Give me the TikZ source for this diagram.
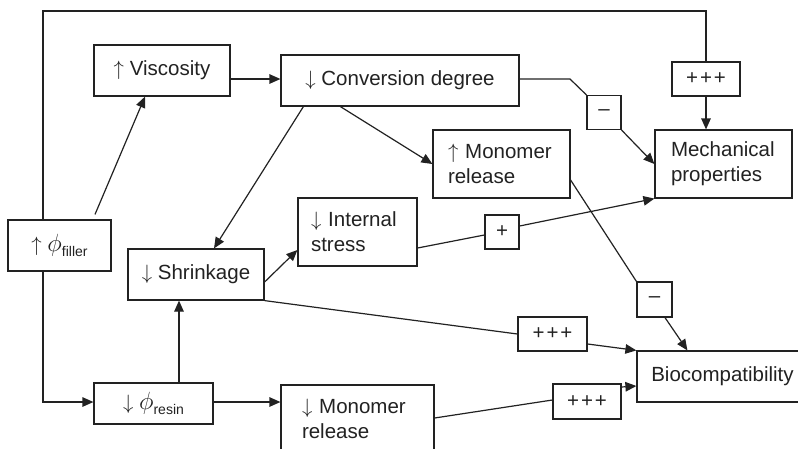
\documentclass[tikz,border=0pt]{standalone}
\usepackage{fontspec}
\setmainfont{Liberation Sans}
\usetikzlibrary{arrows.meta,calc}
\definecolor{ink}{HTML}{222222}
\begin{document}
\begin{tikzpicture}[x=1pt,y=-1pt,
  wire/.style={draw=ink,line width=1.2pt},
  arr/.style={wire,-{Triangle[length=11pt,width=9.5pt]}},
  box/.style={draw=ink,line width=1.2pt,rectangle,inner sep=0pt,text=ink,
    font=\fontsize{20.5}{24.8}\selectfont},
  sign/.style={box,minimum width=#1,minimum height=34pt},
  sign/.default=34pt]
\clip (0,0) rectangle (798,448);
\fill[white] (0,0) rectangle (798,448);
\newcommand{\sub}[1]{\raisebox{-0.45ex}{\fontsize{14}{14}\selectfont #1}}
\newcommand{\bigphi}{\scalebox{1.2}{$\phi$}}
% boxes
\node[box,minimum width=103pt,minimum height=51pt] (filler) at (59.5,245.5)
  {$\uparrow$ \bigphi\sub{filler}};
\node[box,minimum width=136pt,minimum height=51pt] (visc) at (162,70.5)
  {$\uparrow$ Viscosity};
\node[box,minimum width=238pt,minimum height=51pt] (conv) at (400,80.5)
  {$\downarrow$ Conversion degree};
\node[sign=68pt] (pppTop) at (706,79) {+\kern2pt+\kern2pt+};
\node[sign] (minusTop) at (604,112.5) {\textendash};
\node[box,minimum width=137pt,minimum height=68pt,text width=105pt,align=left] (mech) at (723.5,164)
  {Mechanical\\properties};
\node[box,minimum width=137pt,minimum height=68pt,text width=107pt,align=left] (monUp) at (501.5,164)
  {$\uparrow$ Monomer\\release};
\node[box,minimum width=119pt,minimum height=68pt,text width=93pt,align=left] (stress) at (357.5,232)
  {$\downarrow$ Internal\\stress};
\node[sign] (plus) at (502,232) {+};
\node[box,minimum width=136pt,minimum height=51pt] (shrink) at (196,274.5)
  {$\downarrow$ Shrinkage};
\node[sign=35pt,minimum height=35pt] (minusLow) at (654.5,299.5) {\textendash};
\node[sign=69pt] (pppMid) at (552.5,334) {+\kern2pt+\kern2pt+};
\node[box,minimum width=171pt,minimum height=51pt] (bio) at (722.5,376.5)
  {Biocompatibility};
\node[box,minimum width=119pt,minimum height=41pt] (resin) at (153.5,403.5)
  {$\downarrow$ \bigphi\sub{resin}};
\node[box,minimum width=153pt,minimum height=68pt,text width=111pt,align=left] (monDown) at (357.5,419)
  {$\downarrow$ Monomer\\release};
\node[sign=68pt,minimum height=35pt] (pppBot) at (587,401.5) {+\kern2pt+\kern2pt+};
% helper coordinates
\coordinate (tl) at (43,11);
\coordinate (tr) at (706,11);
\coordinate (bl) at (43,402);
\coordinate (y79) at (0,79);
\coordinate (cb) at (570,79);
\coordinate (rn) at (179,383);
% connectors
\draw[wire] (filler.north -| tl) -- (tl) -- (tr) -- (pppTop.north);
\draw[arr] (pppTop.south) -- (pppTop.south |- mech.north);
\draw[arr] (filler.south -| bl) -- (bl) -- (bl -| resin.west);
\draw[arr] ($(filler.north)+(35.5,-5)$) -- ($(visc.south)+(-17,0)$);
\draw[arr] (visc.east |- y79) -- (conv.west |- y79);
\draw[arr] ($(conv.south west)+(23,0)$) -- ($(shrink.north)+(18,0)$);
\draw[arr] ($(conv.south west)+(60,0)$) -- (monUp.west);
\draw[wire] (conv.east |- y79) -- (cb) -- (minusTop.north west);
\draw[arr] (minusTop.south east) -- (mech.west);
\draw[arr] ($(shrink.east)+(0,7.5)$) -- ($(stress.west)+(0,18)$);
\draw[wire] ($(stress.east)+(0,16)$) -- ($(plus.west)+(0,3)$);
\draw[arr] ($(plus.east)+(0,-6)$) -- (mech.south west);
\draw[wire] ($(monUp.east)+(0,16)$) -- (minusLow.north west);
\draw[arr] ($(minusLow.south)+(10.5,0)$) -- ($(bio.north west)+(51,0)$);
\draw[wire] (shrink.south east) -- (pppMid.west);
\draw[arr] ($(pppMid.east)+(0,10)$) -- (bio.north west);
\draw[arr] (rn) -- (rn |- shrink.south);
\draw[arr] ($(resin.east)+(0,-1.5)$) -- ($(monDown.west)+(0,-17)$);
\draw[wire] ($(monDown.east)+(0,-1)$) -- ($(pppBot.west)+(0,-1.5)$);
\draw[arr] ($(pppBot.east)+(0,-14.5)$) -- ($(bio.west)+(0,9.5)$);
\end{tikzpicture}
\end{document}
